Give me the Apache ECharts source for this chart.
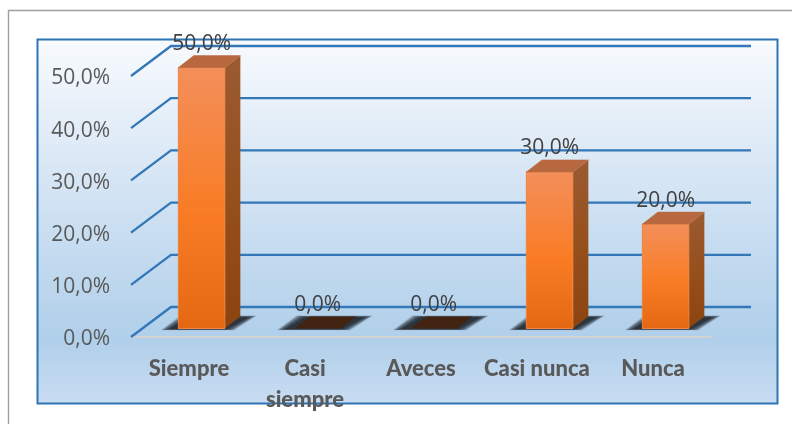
<!DOCTYPE html>
<html><head><meta charset="utf-8">
<style>html,body{margin:0;padding:0;background:#fff}#c{width:792px;height:424px}</style>
<script src="https://cdn.jsdelivr.net/npm/echarts@6/dist/echarts.min.js"></script>
</head><body><div id="c"></div>
<script>
const categories = ['Siempre', 'Casi\nsiempre', 'Aveces', 'Casi nunca', 'Nunca'];
const percentValues = [50, 0, 0, 30, 20];
const gridTicks = [0, 10, 20, 30, 40, 50];

const fmt = v => v.toFixed(1).replace('.', ',') + '%';
// Oblique projection of the 3D depth, in pixels
const WALL_DX = 40, WALL_DY = -30, WALL_END = 40;
const BAR_OFF_X = 12.6, BAR_OFF_Y = -8.5, BAR_W = 46.5, DEPTH_X = 15.5, DEPTH_Y = -12;

const chart = echarts.init(document.getElementById('c'), null, {renderer: 'canvas'});
const grad = (stops) => new echarts.graphic.LinearGradient(0, 0, 0, 1, stops);

chart.setOption({
  animation: false,
  backgroundColor: '#ffffff',
  graphic: [
    {type: 'polyline', z: -20, silent: true, shape: {points: [[8.5, 424], [8.5, 10.5], [792, 10.5]]},
     style: {stroke: '#a0a0a0', lineWidth: 1.4, fill: null}},
    {type: 'rect', z: -10, silent: true, shape: {x: 37.5, y: 39.5, width: 740, height: 364},
     style: {stroke: '#2e75b6', lineWidth: 2,
       fill: new echarts.graphic.LinearGradient(0, 0, 0, 1, [
         {offset: 0, color: '#f8fbfe'}, {offset: 0.35, color: '#d9e7f5'},
         {offset: 0.82, color: '#b0cfea'}, {offset: 1, color: '#c9ddf2'}])}}
  ],
  grid: {left: 131, right: 81, top: 76, bottom: 87},
  xAxis: {
    type: 'category', data: categories,
    axisLine: {show: true, lineStyle: {color: '#d2d2d2', width: 2}},
    axisTick: {show: false},
    axisLabel: {interval: 0, color: '#595959', fontFamily: 'Lato', fontWeight: 900, fontSize: 22, lineHeight: 31, margin: 16}
  },
  yAxis: {
    type: 'value', min: 0, max: 50, interval: 10,
    axisLine: {show: false}, axisTick: {show: false}, splitLine: {show: false},
    axisLabel: {color: '#595959', fontFamily: 'Open Sans', fontSize: 21, margin: 21, verticalAlign: 'top', lineHeight: 5, formatter: v => fmt(v)}
  },
  series: [
    {
      type: 'custom', coordinateSystem: 'cartesian2d', z: 2, silent: true,
      data: gridTicks.map(t => [0, t]),
      renderItem: (params, api) => {
        const p = api.coord([0, api.value(1)]);
        const y = p[1];
        const x0 = params.coordSys.x, x1 = x0 + params.coordSys.width;
        return {type: 'polyline', shape: {points: [[x0, y], [x0 + WALL_DX, y + WALL_DY], [x1 + WALL_END, y + WALL_DY]]},
          style: {stroke: '#3277b8', lineWidth: 2.3, fill: null}};
      }
    },
    {
      type: 'custom', coordinateSystem: 'cartesian2d', z: 3, silent: true,
      data: percentValues.map((v, i) => [i, v]),
      encode: {x: 0, y: 1},
      renderItem: (params, api) => {
        const i = api.value(0), v = api.value(1);
        const base = api.coord([i, 0]), top = api.coord([i, v]);
        const xl = base[0] + BAR_OFF_X - BAR_W / 2, xr = xl + BAR_W;
        const yb = base[1] + BAR_OFF_Y, yt = top[1] + BAR_OFF_Y;
        const topFace = [[xl, yt], [xr, yt], [xr + DEPTH_X, yt + DEPTH_Y], [xl + DEPTH_X, yt + DEPTH_Y]];
        const kids = [];
        // soft floor shadow: nested translucent layers, darkest in the middle
        for (let s = 12; s >= 0; s--) {
          const g = s * 0.8;
          kids.push({type: 'polygon', shape: {points: [
            [xl - 8 - g, yb + 0.5 + g * 0.12],
            [xr + g, yb + 0.5 + g * 0.12],
            [xr + DEPTH_X + 7 + g, yb + DEPTH_Y + 1 - g * 0.2],
            [xl + DEPTH_X - 4 - g, yb + DEPTH_Y + 1 - g * 0.2]
          ]}, style: {fill: 'rgba(28,34,42,0.15)'}});
        }
        if (v > 0) {
          kids.push({type: 'polygon', shape: {points: [[xr, yt], [xr + DEPTH_X, yt + DEPTH_Y], [xr + DEPTH_X, yb + DEPTH_Y], [xr, yb]]},
            style: {fill: grad([{offset: 0, color: '#9b5a32'}, {offset: 0.5, color: '#96501c'}, {offset: 1, color: '#8c430f'}])}});
          kids.push({type: 'rect', shape: {x: xl, y: yt, width: BAR_W, height: yb - yt},
            style: {fill: grad([{offset: 0, color: '#f38f5b'}, {offset: 0.55, color: '#f97c25'}, {offset: 1, color: '#e46712'}]),
                    stroke: '#ec8340', lineWidth: 1}});
          kids.push({type: 'polygon', shape: {points: topFace}, style: {fill: '#b7683f', stroke: '#bd6c40', lineWidth: 0.5}});
        } else {
          kids.push({type: 'polygon', shape: {points: topFace}, style: {fill: '#432412'}});
        }
        kids.push({type: 'text', z2: 10, style: {text: fmt(v), x: base[0] + BAR_OFF_X, y: top[1] + BAR_OFF_Y - 23.5, align: 'center', verticalAlign: 'middle',
          fill: '#404040', font: '21px "Open Sans"'}});
        return {type: 'group', children: kids};
      }
    }
  ]
});
</script></body></html>
